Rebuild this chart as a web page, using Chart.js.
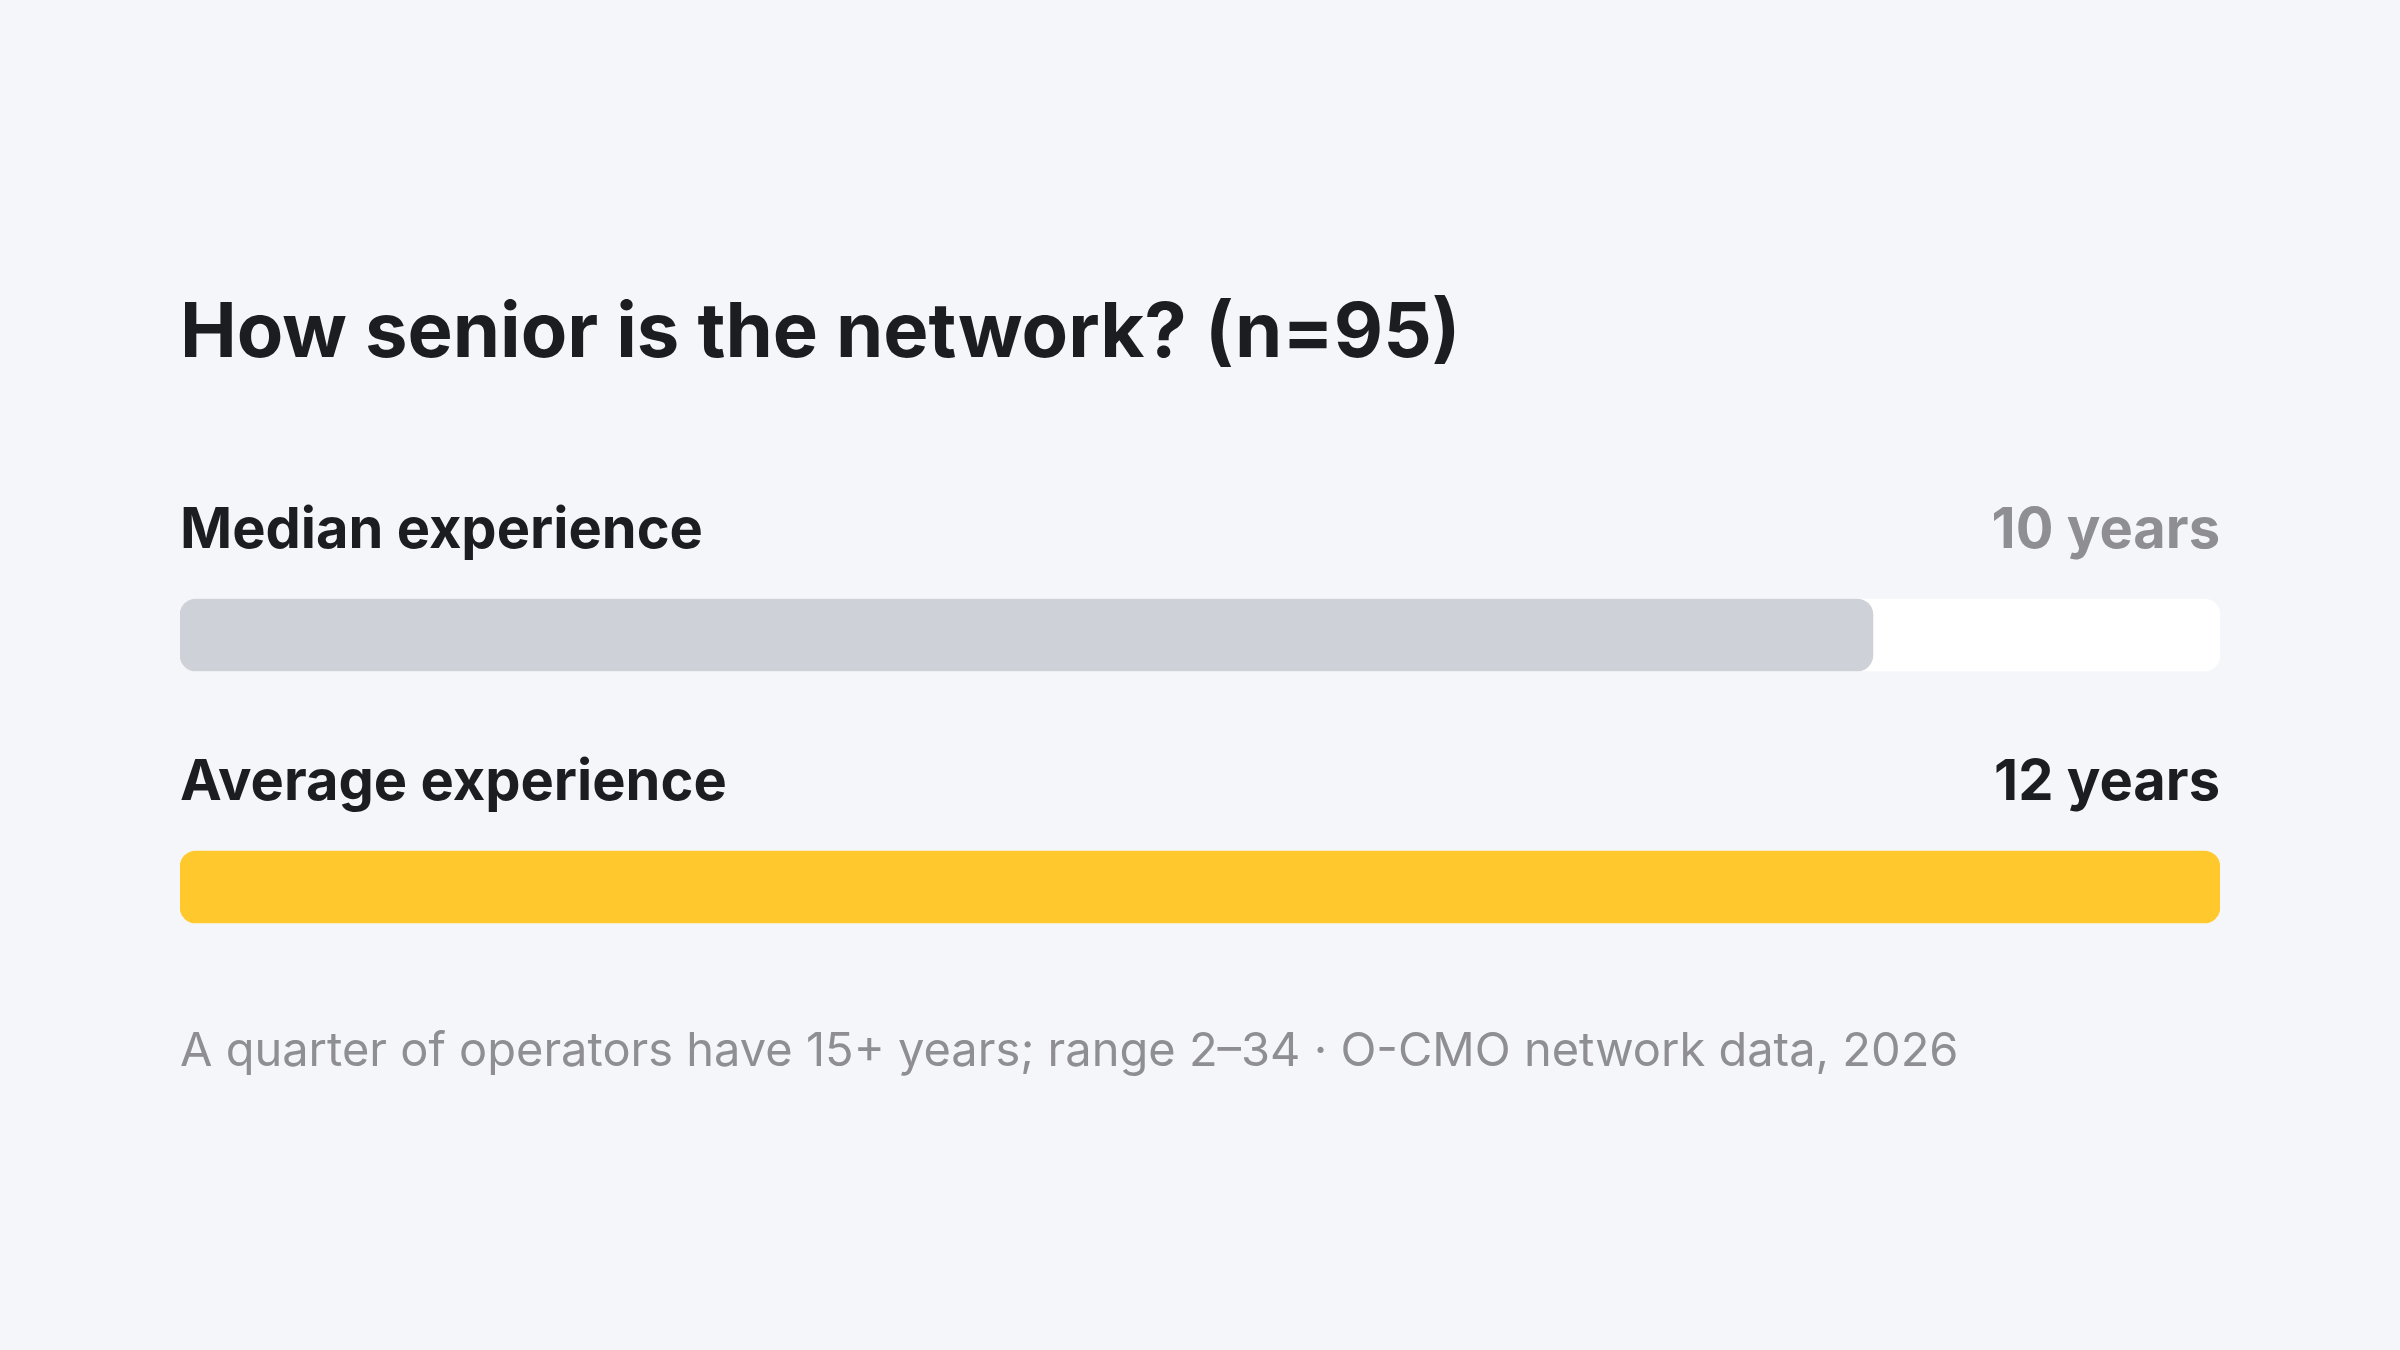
<!DOCTYPE html>
<html>
<head>
<meta charset="utf-8">
<script src="https://cdn.jsdelivr.net/npm/chart.js@4.4.1/dist/chart.umd.min.js"></script>
<style>
  html, body { margin: 0; padding: 0; background: #f5f6fa; }
  canvas { display: block; }
</style>
</head>
<body>
<canvas id="chart" width="2400" height="1350"></canvas>
<script>
const categories = ["Median experience", "Average experience"];
const values = [10, 12.05];
const valueLabels = ["10 years", "12 years"];
const scaleMax = 12.05;
const trackValues = [12.05, 12.05];

const titleText = "How senior is the network? (n=95)";
const noteText = "A quarter of operators have 15+ years; range 2\u201334 \u00b7 O-CMO network data, 2026";

const barColors = ["#cfd1d9", "#ffc82c"];
const valueColors = ["#8e8e93", "#1c1d21"];
const ink = "#1c1d21";
const FONT = "Inter, 'Noto Sans', sans-serif";

// draws title, row labels, value labels and the footnote
const textPlugin = {
  id: "rowText",
  afterDatasetsDraw(chart) {
    const ctx = chart.ctx;
    const area = chart.chartArea;
    const meta = chart.getDatasetMeta(1);
    ctx.save();
    ctx.textBaseline = "alphabetic";

    ctx.fillStyle = ink;
    ctx.font = "bold 76px " + FONT;
    ctx.textAlign = "left";
    ctx.fillText(titleText, area.left, 357);

    meta.data.forEach((bar, i) => {
      const top = bar.y - bar.height / 2;
      ctx.font = "bold 56px " + FONT;
      ctx.textAlign = "left";
      ctx.fillStyle = ink;
      ctx.fillText(categories[i], area.left, top - 51);
      ctx.textAlign = "right";
      ctx.fillStyle = valueColors[i];
      ctx.fillText(valueLabels[i], area.right, top - 51);
    });

    ctx.font = "47px " + FONT;
    ctx.textAlign = "left";
    ctx.fillStyle = "#8e8e93";
    ctx.fillText(noteText, area.left, 1066);
    ctx.restore();
  }
};

new Chart(document.getElementById("chart"), {
  type: "bar",
  data: {
    labels: categories,
    datasets: [
      {
        data: values,
        backgroundColor: barColors,
        borderRadius: 16,
        borderSkipped: false,
        barThickness: 72,
        grouped: false,
        order: 1
      },
      {
        data: trackValues,
        backgroundColor: "#ffffff",
        borderRadius: 16,
        borderSkipped: false,
        barThickness: 72,
        grouped: false,
        order: 2
      }
    ]
  },
  options: {
    indexAxis: "y",
    responsive: false,
    animation: false,
    layout: { padding: { top: 509, bottom: 337, left: 180, right: 180 } },
    scales: {
      x: { display: false, min: 0, max: scaleMax },
      y: { display: false }
    },
    plugins: {
      legend: { display: false },
      tooltip: { enabled: false }
    }
  },
  plugins: [textPlugin]
});
</script>
</body>
</html>
